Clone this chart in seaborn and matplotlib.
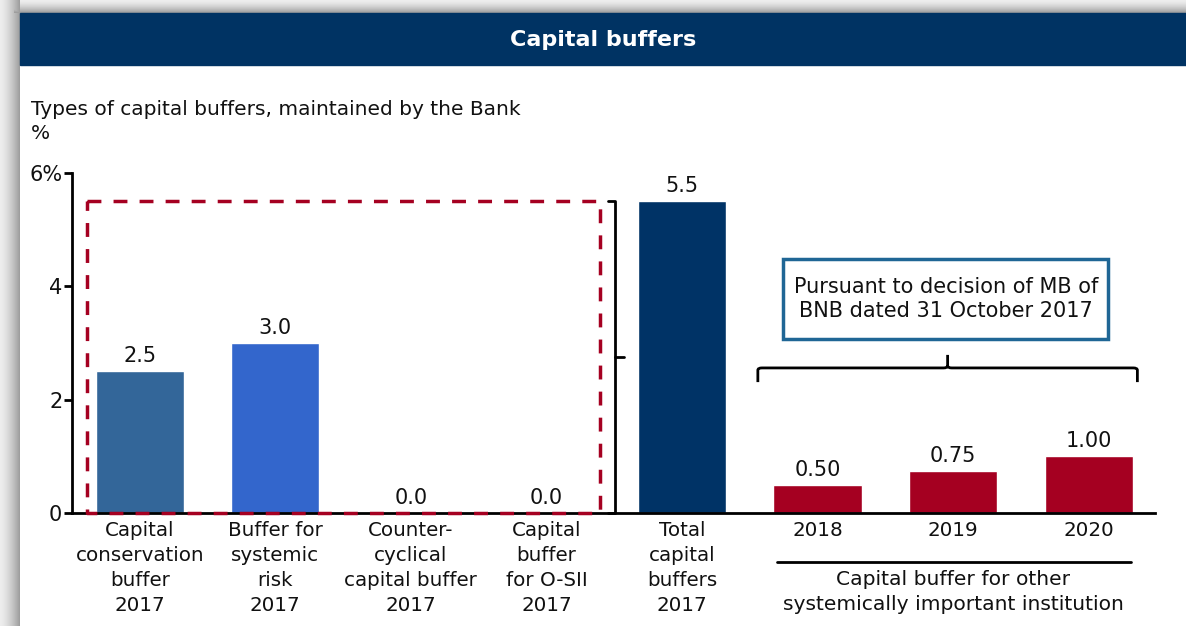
import numpy as np
import pandas as pd
import matplotlib
matplotlib.use("Agg")
import matplotlib.pyplot as plt
import seaborn as sns
from matplotlib.patches import Rectangle
from matplotlib.path import Path
from matplotlib.patches import PathPatch

# ---- data ----
categories = [
    "Capital\nconservation\nbuffer\n2017",
    "Buffer for\nsystemic\nrisk\n2017",
    "Counter-\ncyclical\ncapital buffer\n2017",
    "Capital\nbuffer\nfor O-SII\n2017",
    "Total\ncapital\nbuffers\n2017",
    "2018",
    "2019",
    "2020",
]
values = [2.5, 3.0, 0.0, 0.0, 5.5, 0.50, 0.75, 1.00]
value_labels = ["2.5", "3.0", "0.0", "0.0", "5.5", "0.50", "0.75", "1.00"]
bar_colors = ["#336699", "#3366CC", "#3399FF", "#3399FF", "#003366",
              "#A50021", "#A50021", "#A50021"]
yticks = [0, 2, 4, 6]
ytick_labels = ["0", "2", "4", "6%"]

title = "Capital buffers"
subtitle = "Types of capital buffers, maintained by the Bank\n%"
note_text = "Pursuant to decision of MB of\nBNB dated 31 October 2017"
group_text = "Capital buffer for other\nsystemically important institution"

df = pd.DataFrame({"cat": categories, "val": values})

sns.set_theme(style="white")
plt.rcParams["font.family"] = ["DejaVu Sans"]

W, H = 1186, 626
fig = plt.figure(figsize=(W / 100, H / 100), dpi=100)

# background shadow frame
bg = fig.add_axes([0, 0, 1, 1], zorder=-10)
img = np.ones((H, W, 3))
xs = np.arange(20)
gl = 0.93 - (0.93 - 0.62) * (xs / 19.0) ** 1.5
for i, g in enumerate(gl):
    img[:, i, :] = np.minimum(img[:, i, :], g)
ys = np.arange(13)
gt = 0.93 - (0.93 - 0.62) * (ys / 12.0) ** 1.5
for j, g in enumerate(gt):
    img[j, 14:, :] = np.minimum(img[j, 14:, :], g)
bg.imshow(img, aspect="auto", extent=[0, 1, 0, 1])
bg.axis("off")

# header band
fig.patches.append(Rectangle((20 / W, 1 - 65 / H), 1 - 20 / W, 52 / H,
                             transform=fig.transFigure, color="#003363",
                             zorder=0))
fig.text((20 + W) / 2 / W, 1 - 40 / H, title, color="white", fontsize=16,
         fontweight="bold", ha="center", va="center")
fig.text(31 / W, 1 - 100 / H, subtitle, fontsize=14.5, ha="left", va="top",
         color="#111111", linespacing=1.32)

ax = fig.add_axes([72 / W, 113 / H, (1155 - 72) / W, 340 / H])
sns.barplot(data=df, x="cat", y="val", hue="cat", palette=bar_colors,
            legend=False, width=0.65, ax=ax, saturation=1)
ax.set_xlim(-0.5, 7.49)
ax.set_ylim(0, 6)
ax.set_yticks(yticks)
ax.set_yticklabels(ytick_labels, fontsize=15)
ax.set_xticks(range(len(categories)))
ax.set_xticklabels(categories, fontsize=14.3, linespacing=1.39)
ax.set_xlabel("")
ax.set_ylabel("")
for s in ["top", "right"]:
    ax.spines[s].set_visible(False)
for s in ["left", "bottom"]:
    ax.spines[s].set_color("black")
    ax.spines[s].set_linewidth(2)
ax.tick_params(axis="y", left=True, length=6, width=2, color="black",
               pad=1, labelcolor="#111111")
ax.tick_params(axis="x", bottom=False, pad=0, labelcolor="#111111")
ax.patch.set_alpha(0)

for i, (v, lab) in enumerate(zip(values, value_labels)):
    ax.annotate(lab, (i, v), xytext=(0, 3.5), textcoords="offset points",
                ha="center", va="bottom", fontsize=15, color="#111111")

red = "#A50021"
# dashed rectangle around the 2017 components
x0, x1 = -0.39, 3.395
ax.plot([x0, x1, x1, x0, x0], [values[4], values[4], 0, 0, values[4]],
        color=red, lw=2.5, ls=(0, (4, 3.5)), clip_on=False, zorder=5)

# right bracket for total
bx = 3.505
ax.plot([bx - 0.05, bx, bx, bx - 0.05], [values[4], values[4], 0, 0],
        color="black", lw=2, clip_on=False, solid_joinstyle="round")
ax.plot([bx, bx + 0.07], [values[4] / 2, values[4] / 2], color="black", lw=2)

# curly brace above 2018-2020
lx, rx = 4.56, 7.36
yb, yt = 2.31, 2.56
mx = (lx + rx) / 2
r = 0.03
verts = [(lx, yb), (lx, yt - 0.04), (lx, yt), (lx + r, yt),
         (mx - r, yt), (mx, yt), (mx, yt + 0.04), (mx, yt + 0.23),
         (mx, yt + 0.04), (mx, yt), (mx + r, yt),
         (rx - r, yt), (rx, yt), (rx, yt - 0.04), (rx, yb)]
codes = [Path.MOVETO, Path.LINETO, Path.CURVE3, Path.CURVE3,
         Path.LINETO, Path.CURVE3, Path.CURVE3, Path.LINETO,
         Path.MOVETO, Path.CURVE3, Path.CURVE3,
         Path.LINETO, Path.CURVE3, Path.CURVE3, Path.LINETO]
ax.add_patch(PathPatch(Path(verts, codes), fill=False, lw=2, color="black"))

# note box
ax.add_patch(Rectangle((4.745, 3.07), 2.40, 1.41, fc="white", ec="#1F6695",
                       lw=2.5, zorder=4))
ax.text(mx - 0.01, 3.78, note_text, ha="center", va="center", fontsize=15,
        color="#111111", linespacing=1.25, zorder=5)

# group underline + label
ax.plot([4.70, 7.315], [-0.144 * 6, -0.144 * 6], color="black", lw=2,
        clip_on=False)
ax.text(6.0, -0.167 * 6, group_text, ha="center", va="top", fontsize=14.6,
        color="#111111", linespacing=1.4, clip_on=False)

fig.savefig("out.png", dpi=100)
